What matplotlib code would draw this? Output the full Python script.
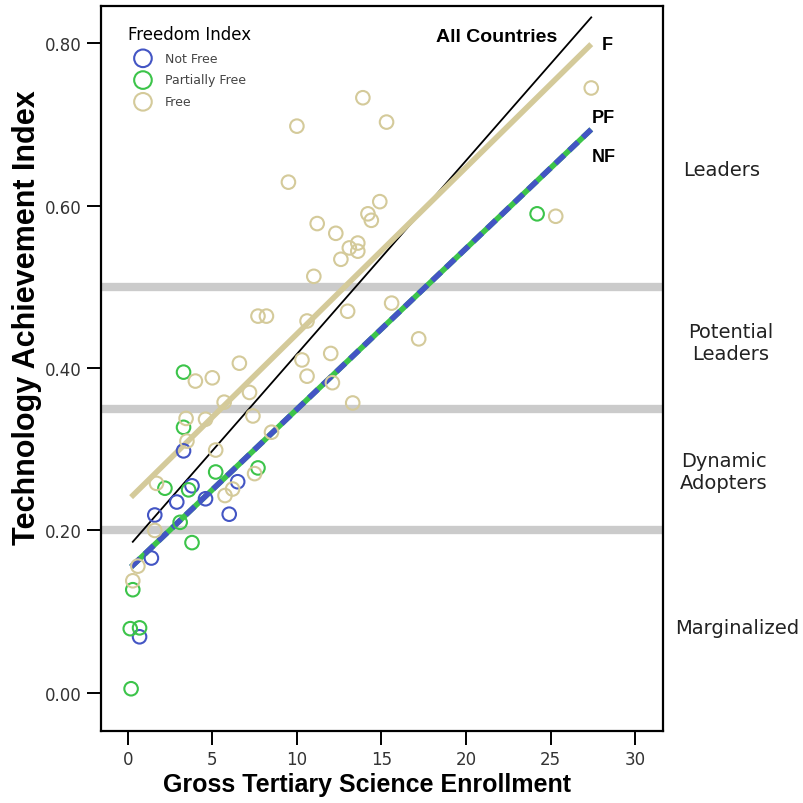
import matplotlib
matplotlib.use("Agg")
import matplotlib.pyplot as plt

plt.rcParams['font.family'] = ['DejaVu Sans']

# scatter data (enrollment, TAI)
nf_x = [3.3, 3.8, 2.9, 4.6, 6.5, 1.6, 6.0, 1.4, 0.7]
nf_y = [0.298, 0.255, 0.235, 0.239, 0.260, 0.219, 0.220, 0.166, 0.069]

pf_x = [3.3, 3.3, 5.2, 7.7, 2.2, 3.6, 3.1, 3.8, 0.3, 0.15, 0.7, 0.2, 24.2]
pf_y = [0.395, 0.327, 0.272, 0.277, 0.252, 0.250, 0.210, 0.185, 0.127, 0.079, 0.080, 0.005, 0.590]

f_x = [13.9, 15.3, 10.0, 9.5, 14.9, 14.2, 14.4, 11.2, 12.3, 13.6, 13.1, 13.6,
       12.6, 11.0, 15.6, 7.7, 8.2, 13.0, 10.6, 17.2, 10.3, 12.0, 10.6, 12.1,
       7.2, 7.4, 13.3, 8.5, 4.0, 5.0, 6.6, 5.7, 3.45, 4.6, 3.5, 5.2, 7.5,
       1.7, 5.75, 6.2, 1.6, 0.6, 0.3, 25.3, 27.4]
f_y = [0.733, 0.703, 0.698, 0.629, 0.605, 0.590, 0.582, 0.578, 0.566, 0.554, 0.548, 0.544,
       0.534, 0.513, 0.480, 0.464, 0.464, 0.470, 0.458, 0.436, 0.410, 0.418, 0.390, 0.382,
       0.370, 0.341, 0.357, 0.321, 0.384, 0.388, 0.406, 0.358, 0.338, 0.337, 0.310, 0.299, 0.270,
       0.258, 0.243, 0.251, 0.200, 0.156, 0.138, 0.587, 0.745]

# fit lines (end points)
fit_x = [0.3, 27.4]
all_fit = [0.186, 0.832]
free_fit_x = [0.2, 27.4]
free_fit = [0.241, 0.799]
nfpf_fit_x = [0.2, 27.4]
nfpf_fit = [0.155, 0.694]

bands = [0.2, 0.35, 0.5]
band_names = ["Marginalized", "Dynamic\nAdopters", "Potential\nLeaders", "Leaders"]
band_mid = [0.081, 0.273, 0.431, 0.645]
band_xpos = [36.0, 35.25, 35.65, 35.1]

blue = "#4355c4"
green = "#3cc44a"
tan = "#d4ca9a"

fig = plt.figure(figsize=(8.04, 8.04), dpi=100)
ax = fig.add_axes([0.1256, 0.0896, 0.699, 0.9017])

for b in bands:
    ax.axhline(b, color="#cbcbcb", lw=6, zorder=1)

ax.plot(fit_x, all_fit, color="black", lw=1.3, zorder=3)
ax.plot(free_fit_x, free_fit, color=tan, lw=4, solid_capstyle="butt", zorder=3)
ax.plot(nfpf_fit_x, nfpf_fit, color=green, lw=4, solid_capstyle="butt", zorder=3)
ax.plot(nfpf_fit_x, nfpf_fit, color=blue, lw=4, dashes=(2.2, 1.2), zorder=4)

ax.scatter(nf_x, nf_y, s=95, facecolors="none", edgecolors=blue, linewidths=1.5, label="Not Free", zorder=5)
ax.scatter(pf_x, pf_y, s=95, facecolors="none", edgecolors=green, linewidths=1.5, label="Partially Free", zorder=5)
ax.scatter(f_x, f_y, s=95, facecolors="none", edgecolors=tan, linewidths=1.5, label="Free", zorder=5)

bold = dict(fontweight="bold", family="Liberation Sans", va="center")
ax.text(21.8, 0.809, "All Countries", fontsize=14, ha="center", **bold)
ax.text(28.05, 0.799, "F", fontsize=13, ha="left", **bold)
ax.text(27.45, 0.709, "PF", fontsize=13, ha="left", **bold)
ax.text(27.45, 0.661, "NF", fontsize=13, ha="left", **bold)

for name, m, xp in zip(band_names, band_mid, band_xpos):
    ax.text(xp, m, name, fontsize=14, color="#222222", ha="center", va="center",
            linespacing=1.2, clip_on=False)

ax.set_xlim(-1.58, 31.64)
ax.set_ylim(-0.047, 0.846)
ax.set_xticks([0, 5, 10, 15, 20, 25, 30])
ax.set_yticks([0.0, 0.2, 0.4, 0.6, 0.8])
ax.set_yticklabels(["0.00", "0.20", "0.40", "0.60", "0.80"])
ax.tick_params(direction="out", length=10, width=1.4, labelsize=12, labelcolor="#333333", pad=4)
for s in ax.spines.values():
    s.set_linewidth(1.6)

ax.set_xlabel("Gross Tertiary Science Enrollment", fontsize=18, fontweight="bold",
              family="Liberation Sans", va="center")
ax.xaxis.set_label_coords(0.473, -0.073)
ax.set_ylabel("Technology Achievement Index", fontsize=22, fontweight="bold",
              family="Liberation Sans", va="center")
ax.yaxis.set_label_coords(-0.132, 0.571)

leg = ax.legend(loc="upper left", bbox_to_anchor=(0.048, 0.974), title="Freedom Index",
                frameon=False, fontsize=9, title_fontsize=12, markerscale=1.3,
                handlelength=2.4, handletextpad=0.55, borderpad=0, borderaxespad=0,
                labelspacing=0.7)
leg._legend_box.align = "left"
for t in leg.get_texts():
    t.set_color("#444444")

fig.savefig("out.png", dpi=100)
